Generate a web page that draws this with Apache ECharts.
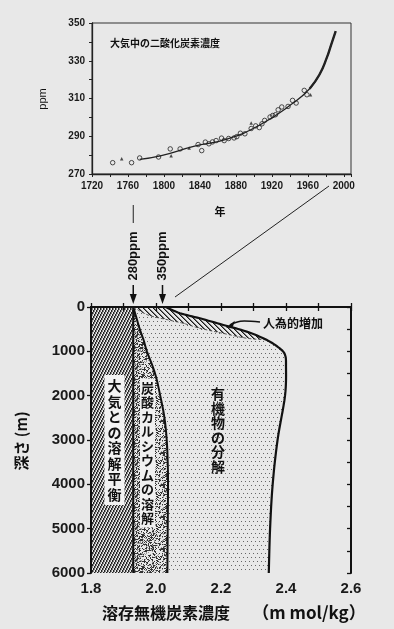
<!DOCTYPE html>
<html><head><meta charset="utf-8">
<script src="https://cdn.jsdelivr.net/npm/echarts@6/dist/echarts.min.js"></script>
<style>html,body{margin:0;padding:0;background:#e8e8e8}#c{width:394px;height:629px}</style>
</head><body><div id="c"></div><script>
// ---------- top chart: atmospheric CO2 ----------
const circleYears = [1743,1764,1773,1794,1807,1818,1838,1842,1846,1850,1854,1858,1864,1867,1872,1878,1881,1885,1890,1897,1902,1906,1909,1912,1918,1921,1924,1927,1931,1938,1943,1947,1956,1959];
const circlePpm   = [276.0,276.0,278.5,279.0,283.3,283.3,285.6,282.4,286.9,286.0,287.0,287.7,289.0,287.7,288.8,289.1,289.8,291.6,291.3,294.1,295.5,294.6,296.6,298.4,300.2,301.0,301.4,304.0,305.5,305.8,309.0,307.6,314.3,312.0];
const triYears = [1753,1808,1828,1897,1963];
const triPpm   = [278.1,279.7,283.8,297.0,312.0];
const fitYears = [1773,1796,1833,1870,1907,1944,1962,1973,1981,1986,1991];
const fitPpm   = [277.8,279.6,284.6,288.5,296.1,307.7,315.2,322.7,331.5,338.6,345.7];
const yearTicks = [1720,1760,1800,1840,1880,1920,1960,2000];
const ppmTicks = [270,290,310,330,350];

// ---------- bottom chart: DIC profile ----------
const concTicks = [1.8,2.0,2.2,2.4,2.6];
const depthTicks = [0,1000,2000,3000,4000,5000,6000];
const eqValue = 1.93;                 // equilibrium with atmosphere (280 ppm)
const depthLevels = [0,250,500,750,1000,1500,2000,2500,3000,3500,4000,5000,6000];
const caco3Edge   = [1.93,1.94,1.95,1.962,1.972,1.997,2.013,2.026,2.033,2.036,2.037,2.036,2.035];
const outerDepth  = [0,140,255,405,555,740,930,1080,1340,2000,3000,4000,5000,6000];
const outerEdge   = [2.03,2.074,2.135,2.207,2.279,2.34,2.38,2.397,2.40,2.397,2.374,2.359,2.351,2.347];
const innerDepth  = [0,180,290,370,480,595,705,740];
const innerEdge   = [1.93,1.975,2.037,2.085,2.135,2.207,2.279,2.34];
const arrowValues = [1.93, 2.02];
const arrowLabels = ['280ppm','350ppm'];

const LAT = '"Liberation Sans", Arial, sans-serif';
const JP = '"Noto Sans CJK JP", sans-serif';

function makeCanvas(w,h,draw){const c=document.createElement('canvas');c.width=w;c.height=h;draw(c.getContext('2d'),w,h);return c;}
function hash(x,y){let h=(Math.imul(x,374761393)+Math.imul(y,668265263))|0;h=Math.imul(h^(h>>>13),1274126177);h^=h>>>16;return (h>>>0)/4294967296;}
const atmosHatch = makeCanvas(3,6,(g)=>{for(let y=0;y<6;y++){const x=2-Math.floor(y/2);g.fillStyle='#222';g.fillRect(x,y,1,1);g.fillStyle='#888';g.fillRect((x+1)%3,y,1,1);}});
const stipple = makeCanvas(32,32,(g)=>{for(let y=0;y<32;y++)for(let x=0;x<32;x++){const r=hash(x,y);if(r<0.3){g.fillStyle='#333';g.fillRect(x,y,1,1);}else if(r<0.45){g.fillStyle='#9a9a9a';g.fillRect(x,y,1,1);}}});
const dots = makeCanvas(8,8,(g)=>{g.fillStyle='#666';[[1,1],[5,1],[3,5],[7,5]].forEach(p=>g.fillRect(p[0],p[1],1,1));});
const anthroHatch = makeCanvas(5,5,(g)=>{for(let x=0;x<5;x++){g.fillStyle='#1a1a1a';g.fillRect(x,x,1,1);g.fillStyle='#777';g.fillRect((x+1)%5,x,1,1);}});

const SUB = 8;
function spline(pts){
  const out=[];
  for(let i=0;i<pts.length-1;i++){
    const p0=pts[i-1]||pts[i], p1=pts[i], p2=pts[i+1], p3=pts[i+2]||pts[i+1];
    for(let j=0;j<SUB;j++){
      const t=j/SUB,t2=t*t,t3=t2*t;
      const f=(a,b,c,d)=>0.5*((2*b)+(-a+c)*t+(2*a-5*b+4*c-d)*t2+(-a+3*b-3*c+d)*t3);
      out.push([f(p0[0],p1[0],p2[0],p3[0]),f(p0[1],p1[1],p2[1],p3[1])]);
    }
  }
  out.push(pts[pts.length-1].slice());
  return out;
}

const chart = echarts.init(document.getElementById('c'), null, {renderer:'canvas'});
const axisTxt = (size)=>({fontFamily:LAT,fontWeight:'bold',fontSize:size,color:'#1a1a1a'});
const plain = v => String(v);

const option = {
  backgroundColor:'#e8e8e8',
  animation:false,
  grid:[
    {left:92,right:43,top:23,height:151,show:true,borderColor:'#333',borderWidth:1,backgroundColor:'transparent',outerBoundsMode:'none'},
    {left:91,right:43,top:307,height:266,show:false,outerBoundsMode:'none'}
  ],
  xAxis:[
    {gridIndex:0,type:'value',min:1720,max:2008,interval:40,
     axisLine:{lineStyle:{color:'#222',width:1.3}},
     axisTick:{show:true,inside:false,length:3,lineStyle:{color:'#222'}},
     minorTick:{show:true,splitNumber:2,length:3,lineStyle:{color:'#222'}},
     splitLine:{show:false},
     axisLabel:Object.assign({margin:7,formatter:plain,showMaxLabel:false},axisTxt(10))},
    {gridIndex:1,type:'value',min:1.8,max:2.6,interval:0.2,position:'bottom',z:5,
     axisLine:{lineStyle:{color:'#111',width:2}},
     axisTick:{show:true,inside:true,length:4,lineStyle:{color:'#111',width:1.3}},
     minorTick:{show:true,splitNumber:2,length:4,lineStyle:{color:'#111',width:1.3}},
     splitLine:{show:false},
     axisLabel:Object.assign({margin:8,formatter:v=>v.toFixed(1)},axisTxt(15))},
    {gridIndex:1,type:'value',min:1.8,max:2.6,interval:0.1,position:'top',z:5,
     axisLine:{lineStyle:{color:'#111',width:2}},
     axisTick:{show:true,inside:true,length:4,lineStyle:{color:'#111',width:1.3}},
     splitLine:{show:false},axisLabel:{show:false}}
  ],
  yAxis:[
    {gridIndex:0,type:'value',min:270,max:350,interval:20,
     axisLine:{show:true,lineStyle:{color:'#222',width:1.3}},
     axisTick:{show:true,inside:false,length:3,lineStyle:{color:'#222'}},
     minorTick:{show:true,splitNumber:2,length:3,lineStyle:{color:'#222'}},
     splitLine:{show:false},
     axisLabel:Object.assign({margin:7,formatter:plain},axisTxt(10))},
    {gridIndex:1,type:'value',min:0,max:6000,interval:1000,inverse:true,position:'left',z:5,
     axisLine:{show:true,lineStyle:{color:'#111',width:2}},
     axisTick:{show:true,inside:false,length:4,lineStyle:{color:'#111',width:1.3}},
     splitLine:{show:false},
     axisLabel:Object.assign({margin:6,formatter:plain},axisTxt(15))},
    {gridIndex:1,type:'value',min:0,max:6000,interval:1000,inverse:true,position:'right',z:5,
     axisLine:{show:true,lineStyle:{color:'#111',width:2}},
     axisTick:{show:true,inside:true,length:4,lineStyle:{color:'#111',width:1.3}},
     minorTick:{show:true,splitNumber:2,length:4,lineStyle:{color:'#111',width:1.3}},
     splitLine:{show:false},axisLabel:{show:false}}
  ],
  series:[
    {type:'line',xAxisIndex:0,yAxisIndex:0,smooth:true,symbol:'none',
     lineStyle:{color:'#222',width:1.3},data:fitYears.map((y,i)=>[y,fitPpm[i]])},
    {type:'line',xAxisIndex:0,yAxisIndex:0,smooth:true,symbol:'none',
     lineStyle:{color:'#222',width:2.4},data:fitYears.map((y,i)=>[y,fitPpm[i]]).slice(6)},
    {type:'scatter',xAxisIndex:0,yAxisIndex:0,symbol:'circle',symbolSize:4.5,
     itemStyle:{color:'rgba(0,0,0,0)',borderColor:'#222',borderWidth:1},
     data:circleYears.map((y,i)=>[y,circlePpm[i]])},
    {type:'scatter',xAxisIndex:0,yAxisIndex:0,symbol:'triangle',symbolSize:3.5,
     itemStyle:{color:'#222'},data:triYears.map((y,i)=>[y,triPpm[i]])},
    {type:'custom',xAxisIndex:1,yAxisIndex:1,z:2,data:[[eqValue,0]],
     renderItem:function(params,api){
       const P=(x,y)=>api.coord([x,y]);
       const cac=spline(depthLevels.map((d,i)=>P(caco3Edge[i],d)));
       const out=spline(outerDepth.map((d,i)=>P(outerEdge[i],d)));
       const inn=spline(innerDepth.map((d,i)=>P(innerEdge[i],d)));
       const k=outerDepth.indexOf(innerDepth[innerDepth.length-1])*SUB;
       const outUp=out.slice(0,k+1), outLow=out.slice(k);
       const eqT=P(eqValue,0), eqB=P(eqValue,6000), lT=P(1.8,0), lB=P(1.8,6000);
       const innRev=inn.slice().reverse(), outLowRev=outLow.slice().reverse();
       return {type:'group',children:[
         {type:'polygon',shape:{points:[lT,eqT,eqB,lB]},style:{fill:{image:atmosHatch,repeat:'repeat'}}},
         {type:'polygon',shape:{points:[eqT].concat(cac,[eqB])},style:{fill:{image:stipple,repeat:'repeat'}}},
         {type:'polygon',shape:{points:cac.concat(outLowRev,innRev)},style:{fill:{image:dots,repeat:'repeat'}}},
         {type:'polygon',shape:{points:outUp.concat(innRev)},style:{fill:{image:anthroHatch,repeat:'repeat'}}},
         {type:'polyline',shape:{points:inn},style:{stroke:'#333',lineWidth:0.8,lineDash:[3,2],fill:null}},
         {type:'line',shape:{x1:eqT[0],y1:eqT[1],x2:eqB[0],y2:eqB[1]},style:{stroke:'#111',lineWidth:2}},
         {type:'polyline',shape:{points:cac},style:{stroke:'#111',lineWidth:2,fill:null}},
         {type:'polyline',shape:{points:out},style:{stroke:'#111',lineWidth:2.2,fill:null}}
       ]};
     }}
  ]
};
chart.setOption(option);

const toPx = v => chart.convertToPixel({seriesIndex:4}, v);
const g = [];
function txt(text,x,y,font,extra){return Object.assign({type:'text',x:x,y:y,z:100,style:Object.assign({text:text,font:font,fill:'#111',align:'center',verticalAlign:'middle',textAlign:'center',textVerticalAlign:'middle'},extra||{})});}

// top chart texts
g.push(txt('大気中の二酸化炭素濃度',110,43,'bold 10px '+JP,{align:'left',textAlign:'left'}));
g.push(Object.assign(txt('ppm',43,99,'11px '+LAT),{rotation:Math.PI/2}));
g.push(txt('年',220,212,'bold 11px '+JP));
// connecting line from top chart to bottom chart
g.push({type:'line',z:100,shape:{x1:329,y1:186,x2:175,y2:297},style:{stroke:'#222',lineWidth:1}});
// arrows 280ppm / 350ppm
arrowValues.forEach((v,i)=>{
  const p = toPx([v,0]);
  const x = p[0];
  g.push(Object.assign(txt(arrowLabels[i],x,256,'bold 13px '+LAT),{rotation:Math.PI/2}));
  g.push({type:'line',z:100,shape:{x1:x,y1:285,x2:x,y2:296},style:{stroke:'#111',lineWidth:1.5}});
  g.push({type:'polygon',z:100,shape:{points:[[x-3.5,294],[x+3.5,294],[x,p[1]-3]]},style:{fill:'#111'}});
});
{ const x = toPx([arrowValues[0],0])[0]; g.push({type:'line',z:100,shape:{x1:x,y1:205,x2:x,y2:223},style:{stroke:'#222',lineWidth:1}}); }
// anthropogenic label + arrow
{ const tip = toPx([2.215,470]);
  g.push(txt('人為的増加',263,323,'bold 12px '+JP,{align:'left',textAlign:'left'}));
  g.push({type:'bezierCurve',z:100,shape:{x1:260,y1:322,x2:tip[0]+4,y2:tip[1]-3,cpx1:240,cpy1:320,cpx2:tip[0]+12,cpy2:tip[1]-7},style:{stroke:'#111',lineWidth:1.5,fill:null}});
  g.push({type:'polygon',z:100,shape:{points:[[tip[0],tip[1]],[tip[0]+9,tip[1]-7],[tip[0]+7,tip[1]-1]]},style:{fill:'#111'}});
}
// region labels (vertical)
const vt = s => s.split('').join('\n');
g.push(txt(vt('大気との溶解平衡'),114.5,440,'bold 14px '+JP,{lineHeight:15.5,backgroundColor:'#f3f3f3',padding:[3,3]}));
g.push(txt(vt('炭酸カルシウムの溶解'),147.5,453,'bold 13px '+JP,{lineHeight:14.5,backgroundColor:'#f0f0f0',padding:[2,1]}));
g.push(txt(vt('有機物の分解'),218,430,'bold 14px '+JP,{lineHeight:14.5}));
// axis names bottom
g.push(Object.assign(txt('深さ (m)',21,441,'bold 15px '+JP),{rotation:Math.PI/2}));
g.push(txt('溶存無機炭素濃度',102,613,'bold 16px '+JP,{align:'left',textAlign:'left'}));
g.push(txt('（m mol/kg）',309,613,'bold 17px '+JP));
chart.setOption({graphic:{elements:g}});
</script></body></html>
